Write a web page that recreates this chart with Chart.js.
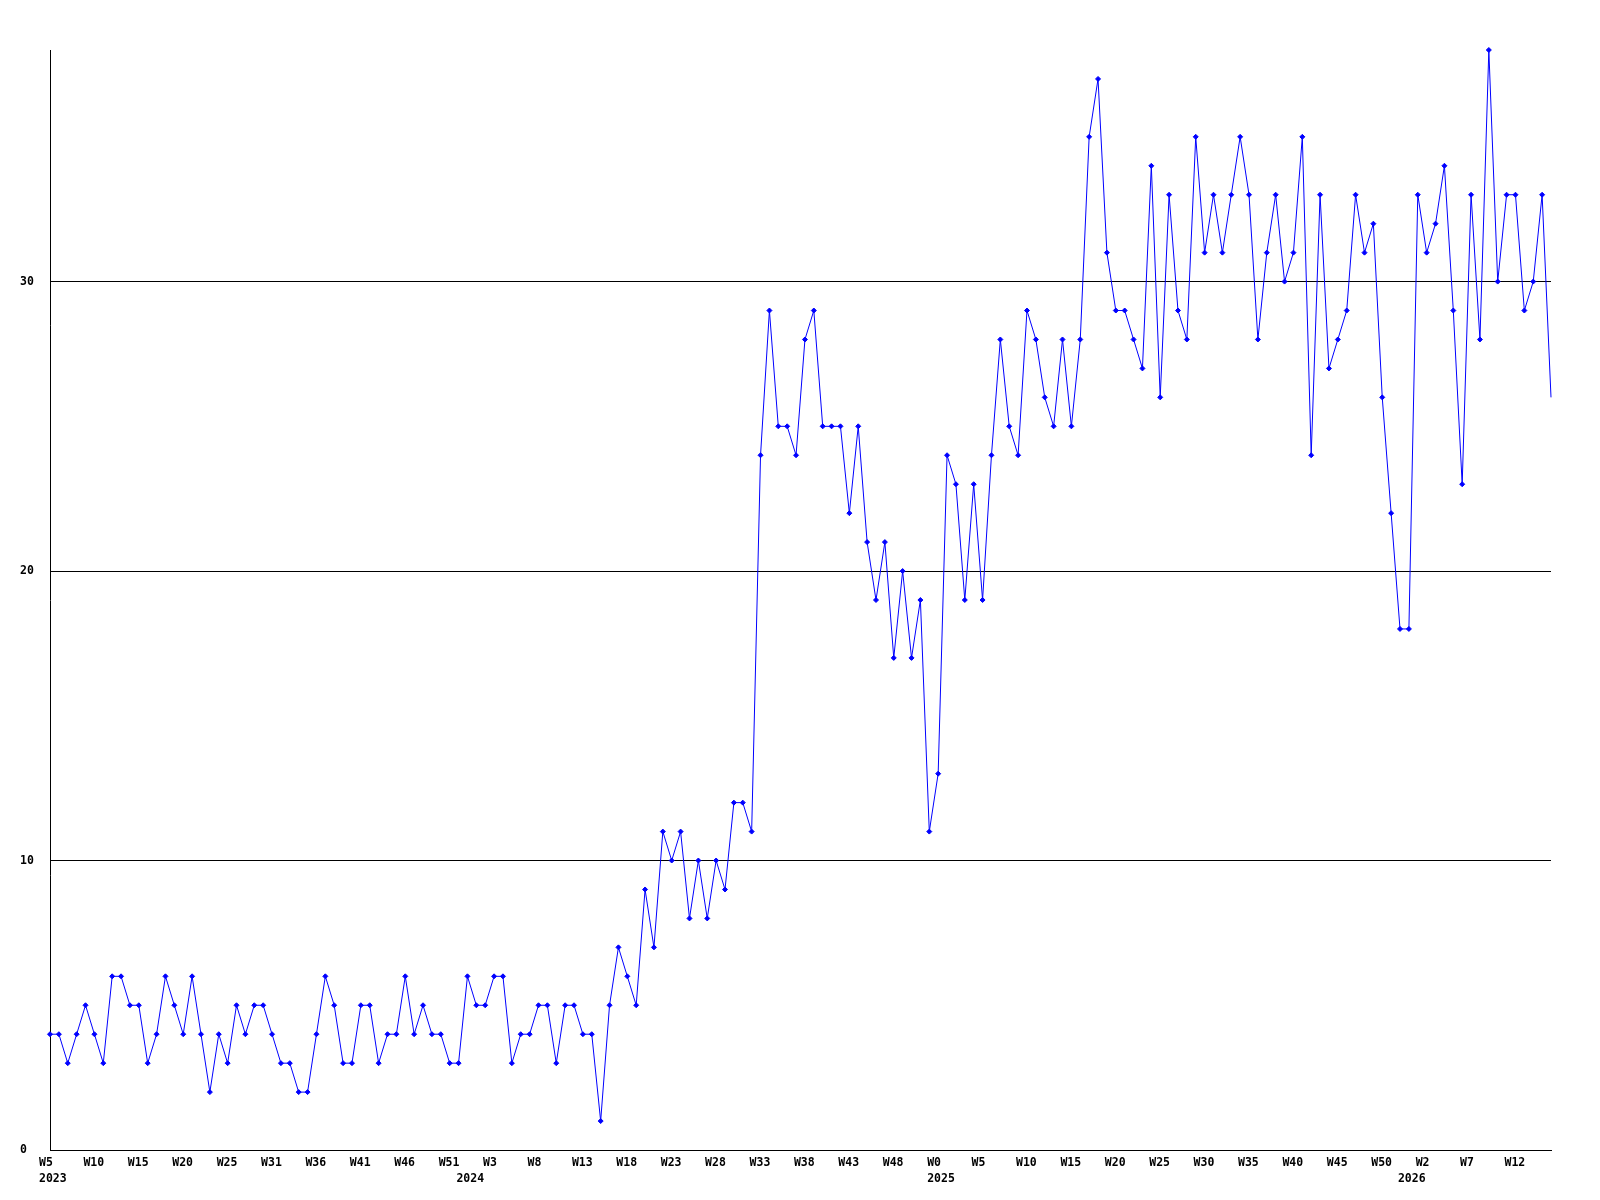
<!DOCTYPE html>
<html lang="en">
<head>
    <meta charset="UTF-8">
    <title>Weekly count</title>
    <script src="https://cdn.jsdelivr.net/npm/chart.js"></script>
    <style>
        body {
            margin: 0;
            padding: 0;
            background: #ffffff;
        }
        #wrap {
            width: 1600px;
            height: 1200px;
        }
    </style>
</head>
<body>
    <div id="wrap">
        <canvas id="weekly" width="1600" height="1200"></canvas>
    </div>

    <script>
        // one value per week, 2023 W5 .. 2026 W16
        const values = [
            4, 4, 3, 4, 5, 4, 3, 6, 6, 5, 5, 3, 4, 6, 5, 4, 6, 4, 2, 4,
            3, 5, 4, 5, 5, 4, 3, 3, 2, 2, 4, 6, 5, 3, 3, 5, 5, 3, 4, 4,
            6, 4, 5, 4, 4, 3, 3, 6, 5, 5, 6, 6, 3, 4, 4, 5, 5, 3, 5, 5,
            4, 4, 1, 5, 7, 6, 5, 9, 7, 11, 10, 11, 8, 10, 8, 10, 9, 12, 12, 11,
            24, 29, 25, 25, 24, 28, 29, 25, 25, 25, 22, 25, 21, 19, 21, 17, 20, 17, 19, 11,
            13, 24, 23, 19, 23, 19, 24, 28, 25, 24, 29, 28, 26, 25, 28, 25, 28, 35, 37, 31,
            29, 29, 28, 27, 34, 26, 33, 29, 28, 35, 31, 33, 31, 33, 35, 33, 28, 31, 33, 30,
            31, 35, 24, 33, 27, 28, 29, 33, 31, 32, 26, 22, 18, 18, 33, 31, 32, 34, 29, 23,
            33, 28, 38, 30, 33, 33, 29, 30, 33, 26
        ];

        // categories are just the week positions
        const weeks = values.map((v, i) => i);

        // week labels shown every 5th point
        const weekTickIdx = [0, 5, 10, 15, 20, 25, 30, 35, 40, 45, 50, 55, 60, 65, 70, 75, 80,
            85, 90, 95, 100, 105, 110, 115, 120, 125, 130, 135, 140, 145, 150, 155, 160, 165];
        const weekTickText = ['W5', 'W10', 'W15', 'W20', 'W25', 'W31', 'W36', 'W41', 'W46', 'W51',
            'W3', 'W8', 'W13', 'W18', 'W23', 'W28', 'W33', 'W38', 'W43', 'W48',
            'W0', 'W5', 'W10', 'W15', 'W20', 'W25', 'W30', 'W35', 'W40', 'W45', 'W50',
            'W2', 'W7', 'W12'];

        // year labels under the first week of each year
        const yearIdx = [0, 47, 100, 153];
        const yearText = ['2023', '2024', '2025', '2026'];

        const yTicks = [0, 10, 20, 30];

        const labelFont = 'bold 11.5px "DejaVu Sans Mono", "Liberation Mono", monospace';

        // draws the axis texts at the scale positions
        const axisText = {
            id: 'axisText',
            afterDraw(chart) {
                const ctx = chart.ctx;
                const xs = chart.scales.x;
                const ys = chart.scales.y;
                const bottom = chart.chartArea.bottom;
                ctx.save();
                ctx.font = labelFont;
                ctx.fillStyle = '#000000';
                ctx.textAlign = 'left';
                ctx.textBaseline = 'middle';

                yTicks.forEach(v => {
                    ctx.fillText(String(v), 20, ys.getPixelForValue(v));
                });

                weekTickIdx.forEach((idx, k) => {
                    ctx.fillText(weekTickText[k], xs.getPixelForValue(idx) - 11, bottom + 13);
                });

                yearIdx.forEach((idx, k) => {
                    ctx.fillText(yearText[k], xs.getPixelForValue(idx) - 11, bottom + 29);
                });
                ctx.restore();
            }
        };

        const ctx = document.getElementById('weekly').getContext('2d');
        new Chart(ctx, {
            type: 'line',
            data: {
                labels: weeks,
                datasets: [{
                    data: values,
                    borderColor: '#0000ff',
                    backgroundColor: '#0000ff',
                    borderWidth: 1,
                    tension: 0,
                    fill: false,
                    pointStyle: 'rectRot',
                    pointRadius: c => (c.dataIndex === values.length - 1 ? 0 : 2.5),
                    pointBorderWidth: 1,
                    clip: false
                }]
            },
            options: {
                responsive: false,
                animation: false,
                layout: {
                    padding: { left: 50, right: 49, top: 50, bottom: 42 }
                },
                plugins: {
                    legend: { display: false },
                    tooltip: { enabled: false }
                },
                scales: {
                    x: {
                        type: 'category',
                        offset: false,
                        grid: { display: false },
                        border: { display: true, color: '#000000', width: 1 },
                        ticks: { display: false }
                    },
                    y: {
                        min: 0,
                        max: 38,
                        grid: { color: '#000000', lineWidth: 1, drawTicks: false },
                        border: { display: true, color: '#000000', width: 1 },
                        ticks: { display: false, stepSize: 10, includeBounds: false }
                    }
                }
            },
            plugins: [axisText]
        });
    </script>
</body>
</html>
